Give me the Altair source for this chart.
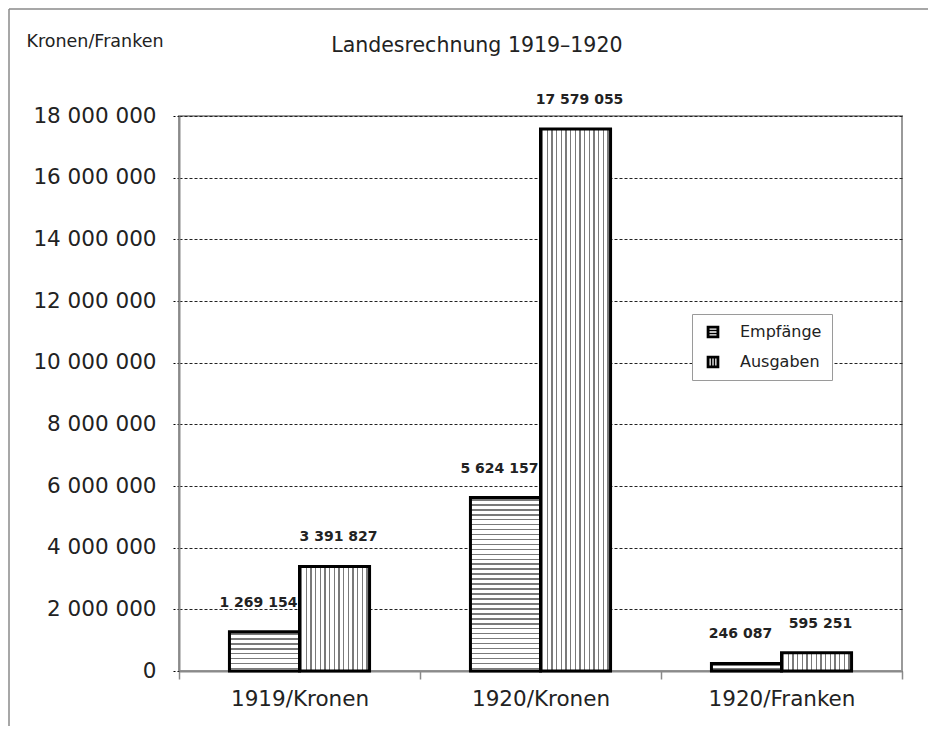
import altair as alt
import pandas as pd

categories = ["1919/Kronen", "1920/Kronen", "1920/Franken"]
series = ["Empfänge", "Ausgaben"]
empfaenge = [1269154, 5624157, 246087]
ausgaben = [3391827, 17579055, 595251]
y_ticks = [0, 2000000, 4000000, 6000000, 8000000, 10000000, 12000000, 14000000, 16000000, 18000000]

rows = []
for c, e, a in zip(categories, empfaenge, ausgaben):
    rows.append({"category": c, "series": series[0], "value": e})
    rows.append({"category": c, "series": series[1], "value": a})
df = pd.DataFrame(rows)

W, H = 723, 555
YMAX = 18000000
FONT = "DejaVu Sans"
TXT = "#222222"


def stripes(n, vertical, line="#7a7a7a", bg="#ffffff"):
    stops = []
    for i in range(n):
        s = i / n
        a = s + 0.3 / n
        b = s + 0.62 / n
        stops += [
            {"offset": s, "color": bg},
            {"offset": a, "color": bg},
            {"offset": a, "color": line},
            {"offset": b, "color": line},
            {"offset": b, "color": bg},
        ]
    stops.append({"offset": 1, "color": bg})
    g = {"gradient": "linear", "stops": stops, "x1": 0, "y1": 0}
    if vertical:
        g.update({"x2": 1, "y2": 0})
    else:
        g.update({"x2": 0, "y2": 1})
    return g


x_enc = alt.X(
    "category:N",
    sort=categories,
    scale=alt.Scale(paddingInner=0, paddingOuter=0),
    axis=alt.Axis(
        title=None,
        labelAngle=0,
        tickBand="extent",
        labelFontSize=21.5,
        labelFont=FONT,
        labelColor=TXT,
        labelPadding=9,
        domainColor="#8a8a8a",
        domainWidth=2,
        tickColor="#8a8a8a",
        tickWidth=1.5,
        tickSize=8,
        grid=False,
    ),
)
xo_enc = alt.XOffset("series:N", sort=series, scale=alt.Scale(paddingInner=0, paddingOuter=0.72))
y_enc = alt.Y(
    "value:Q",
    scale=alt.Scale(domain=[0, YMAX], nice=False),
    axis=alt.Axis(
        values=y_ticks,
        format=",d",
        title="Kronen/Franken",
        titleAngle=0,
        titleAlign="left",
        titleBaseline="top",
        titleX=-153,
        titleY=-84,
        titleFont=FONT,
        titleFontSize=17.5,
        titleFontWeight="normal",
        titleColor=TXT,
        labelFont=FONT,
        labelFontSize=21.5,
        labelColor=TXT,
        labelPadding=15,
        tickColor="#000000",
        tickDash=[2, 2],
        tickSize=8,
        tickWidth=1,
        domainColor="#8a8a8a",
        domainWidth=2,
        grid=True,
        gridColor="#222222",
        gridDash=[3, 2],
        gridWidth=1,
    ),
)

base = alt.Chart(df)

layers = []
# Ausgaben bars: vertical stripes (all same width)
layers.append(
    base.transform_filter(alt.datum.series == series[1])
    .mark_bar(fill=stripes(15, True), stroke="#000000", strokeWidth=3)
    .encode(x=x_enc, xOffset=xo_enc, y=y_enc)
)
# Empfänge bars: horizontal stripes, spacing ~5px
for c, e in zip(categories, empfaenge):
    px = e / YMAX * H
    n = max(1, round(px / 5))
    layers.append(
        base.transform_filter((alt.datum.series == series[0]) & (alt.datum.category == c))
        .mark_bar(fill=stripes(n, False), stroke="#000000", strokeWidth=3)
        .encode(x=x_enc, xOffset=xo_enc, y=y_enc)
    )

label_e = base.transform_filter(alt.datum.series == series[0]).mark_text(
    font=FONT, fontSize=14, fontWeight="bold", color=TXT, dx=-6, dy=-29, baseline="middle"
).encode(x=x_enc, xOffset=xo_enc, y=y_enc, text=alt.Text("value:Q", format=",d"))
label_a = base.transform_filter(alt.datum.series == series[1]).mark_text(
    font=FONT, fontSize=14, fontWeight="bold", color=TXT, dx=4, dy=-29, baseline="middle"
).encode(x=x_enc, xOffset=xo_enc, y=y_enc, text=alt.Text("value:Q", format=",d"))

path_h = ("M-1,-1H1V1H-1Z"
          "M-0.55,-0.55V-0.35H0.55V-0.55Z"
          "M-0.55,-0.1V0.1H0.55V-0.1Z"
          "M-0.55,0.35V0.55H0.55V0.35Z")
path_v = ("M-1,-1H1V1H-1Z"
          "M-0.55,-0.55V0.55H-0.35V-0.55Z"
          "M-0.1,-0.55V0.55H0.1V-0.55Z"
          "M0.35,-0.55V0.55H0.55V-0.55Z")

legend = alt.Legend(
    title=None,
    orient="none",
    legendX=513,
    legendY=198,
    padding=10,
    rowPadding=14,
    strokeColor="#9a9a9a",
    fillColor="#ffffff",
    labelFont=FONT,
    labelFontSize=16,
    labelColor=TXT,
    labelOffset=19,
    labelExpr="datum.label + '\u00a0\u00a0\u00a0'",
    symbolOffset=3,
    symbolSize=160,
    symbolOpacity=1,
    symbolStrokeWidth=0,
)
legend_pts = base.mark_point(filled=True, opacity=0).encode(
    x=x_enc,
    xOffset=xo_enc,
    y=y_enc,
    shape=alt.Shape("series:N", sort=series, scale=alt.Scale(domain=series, range=[path_h, path_v]), legend=legend),
    color=alt.Color("series:N", sort=series, scale=alt.Scale(domain=series, range=["#000000", "#000000"]), legend=legend),
)

frame_df = pd.DataFrame({"f": [0]})
frame_left = alt.Chart(frame_df).mark_rule(color="#8a8a8a", strokeWidth=1.5).encode(
    x=alt.value(-170), y=alt.value(-107), y2=alt.value(H + 60)
)
frame_top = alt.Chart(frame_df).mark_rule(color="#8a8a8a", strokeWidth=1.5).encode(
    x=alt.value(-170), x2=alt.value(W + 40), y=alt.value(-107)
)

chart = (
    alt.layer(frame_left, frame_top, *layers, label_e, label_a, legend_pts)
    .properties(
        width=W,
        height=H,
        title=alt.TitleParams(
            "Landesrechnung 1919–1920",
            anchor="start",
            dx=323,
            dy=52,
            font=FONT,
            fontSize=20.5,
            fontWeight="normal",
            color=TXT,
        ),
        autosize=alt.AutoSizeParams(type="none"),
        padding={"left": 171, "top": 108, "right": 26, "bottom": 55},
    )
    .configure(locale={"number": {"decimal": ",", "thousands": " ", "grouping": [3], "currency": ["", ""]}})
    .configure_view(stroke="#9a9a9a", strokeWidth=2)
)

chart.save("out.html", embed_options={"renderer": "svg", "actions": False})
